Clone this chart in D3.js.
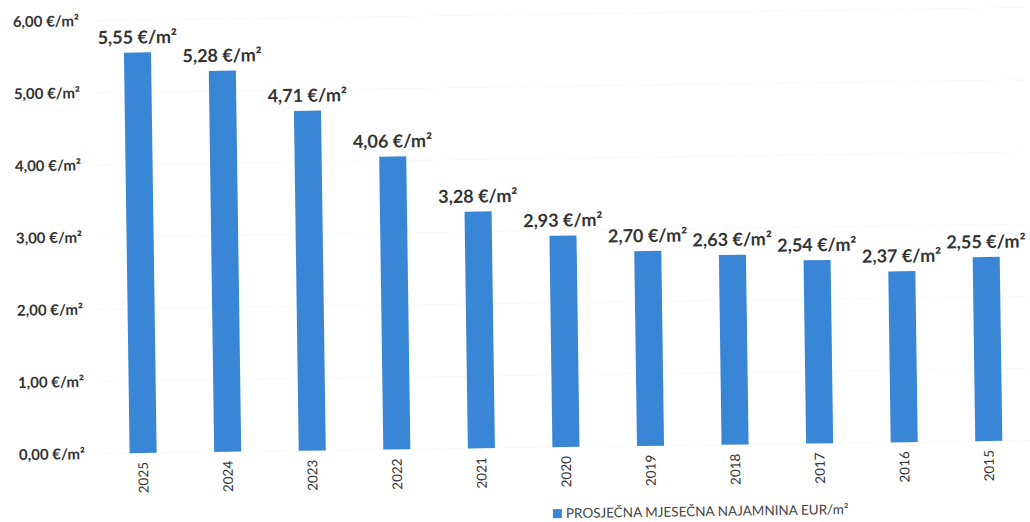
<!DOCTYPE html>
<html><head><meta charset="utf-8">
<script src="https://cdn.jsdelivr.net/npm/d3@7"></script>
<style>body{margin:0;background:#fff}svg{display:block}text{font-family:Lato,"Open Sans",sans-serif}</style>
</head><body>
<svg id="c" width="1030" height="522"></svg>
<script>
const years = ["2025","2024","2023","2022","2021","2020","2019","2018","2017","2016","2015"];
const rents = [5.55,5.28,4.71,4.06,3.28,2.93,2.70,2.63,2.54,2.37,2.55];
const yTicks = [0,1,2,3,4,5,6];
const seriesName = "PROSJEČNA MJESEČNA NAJAMNINA EUR/m²";

const fmt = v => d3.format(".2f")(v).replace(".", ",") + " €/m²";
const svg = d3.select("#c");
const g = svg.append("g").attr("transform","rotate(-0.81,143,453)");

const x = d3.scaleBand().domain(years).range([100,1032]).paddingInner(0.68).paddingOuter(0.35);
const y = d3.scaleLinear().domain([0,6]).range([453,20]);

g.append("g").selectAll("line").data(yTicks).join("line")
  .attr("x1",100).attr("x2",1030).attr("y1",d=>y(d)).attr("y2",d=>y(d))
  .attr("stroke","#f8f8f8").attr("stroke-width",1);

const yAxis = g.append("g").attr("transform","translate(85,0)")
  .call(d3.axisLeft(y).tickValues(yTicks).tickSize(0).tickPadding(0).tickFormat(fmt));
yAxis.select(".domain").remove();
yAxis.selectAll("text").attr("font-size",15).attr("font-weight","bold").attr("fill","#333")
  .style("font-family","Lato,sans-serif");

g.append("g").selectAll("rect").data(years).join("rect")
  .attr("x",d=>x(d)).attr("width",x.bandwidth())
  .attr("y",(d,i)=>y(rents[i])).attr("height",(d,i)=>y(0)-y(rents[i]))
  .attr("fill","#3a86d6");

g.append("g").selectAll("text").data(years).join("text")
  .attr("x",d=>x(d)+x.bandwidth()/2).attr("y",(d,i)=>y(rents[i])-9)
  .attr("text-anchor","middle").attr("font-size",18).attr("font-weight","bold").attr("fill","#333")
  .text((d,i)=>fmt(rents[i]));

const xAxis = g.append("g").attr("transform",`translate(0,${y(0)})`)
  .call(d3.axisBottom(x).tickSize(0).tickPadding(0));
xAxis.select(".domain").remove();
xAxis.selectAll("text").attr("transform","rotate(-90)").attr("text-anchor","end")
  .attr("x",-9).attr("y",0).attr("dy","0.35em").attr("font-size",13.5).attr("fill","#333")
  .style("font-family","Lato,sans-serif");

const leg = g.append("g").attr("transform","translate(552,524)");
leg.append("rect").attr("x",0).attr("y",-9).attr("width",9).attr("height",9).attr("fill","#3a86d6");
leg.append("text").attr("x",13).attr("y",0).attr("font-size",13.5).attr("fill","#444").text(seriesName);
</script>
</body></html>
